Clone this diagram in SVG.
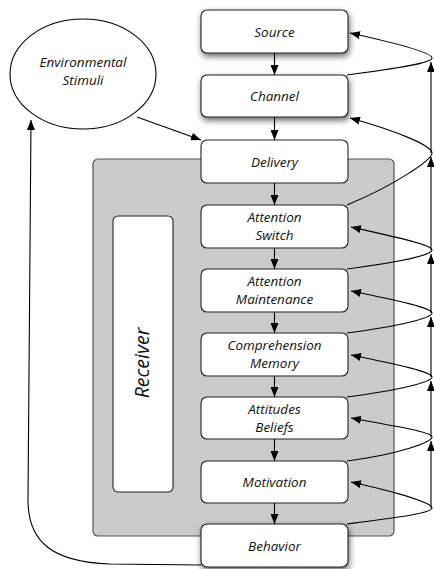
<svg xmlns="http://www.w3.org/2000/svg" width="434" height="569" viewBox="0 0 434 569">
<defs>
<marker id="ah" viewBox="0 0 10 8" refX="10" refY="4" markerWidth="10" markerHeight="8" markerUnits="userSpaceOnUse" orient="auto"><path d="M0,0 L10,4 L0,8 z" fill="#000"/></marker>
<filter id="sh" x="-20%" y="-30%" width="140%" height="170%">
<feGaussianBlur in="SourceAlpha" stdDeviation="3"/>
<feOffset dx="1" dy="3" result="b"/>
<feComponentTransfer><feFuncA type="linear" slope="0.6"/></feComponentTransfer>
<feMerge><feMergeNode/><feMergeNode in="SourceGraphic"/></feMerge>
</filter>
</defs>
<style>
.box{fill:#fff;stroke:#222;stroke-width:1.1}
.t{font-family:"Open Sans","DejaVu Sans",sans-serif;font-style:italic;font-size:13.5px;fill:#111;text-anchor:middle}
.c{fill:none;stroke:#000;stroke-width:1.1}
</style>
<g id="receiver-area">
<rect x="93" y="159" width="301" height="377" rx="5" fill="#cbcbcb" stroke="#555" stroke-width="1.2"/>
</g>
<g id="receiver">
<rect x="113" y="216" width="60" height="276" rx="5" class="box"/>
<text class="t" style="font-size:19.5px" transform="translate(149,363) rotate(-90)">Receiver</text>
</g>
<g id="env">
<ellipse cx="83" cy="74" rx="73" ry="55" fill="#fff" stroke="#000" stroke-width="1.1"/>
<text class="t" x="83" y="67">Environmental</text>
<text class="t" x="83" y="85">Stimuli</text>
</g>
<g id="source"><rect x="201" y="10" width="147" height="43" rx="6" class="box" filter="url(#sh)"/><text class="t" x="274.5" y="36.5">Source</text></g>
<g id="channel"><rect x="201" y="75" width="147" height="42" rx="6" class="box" filter="url(#sh)"/><text class="t" x="274.5" y="100.5">Channel</text></g>
<g id="delivery"><rect x="201" y="140" width="147" height="43" rx="6" class="box"/><text class="t" x="274.5" y="166.5">Delivery</text></g>
<g id="attention-switch"><rect x="201" y="205" width="147" height="43" rx="6" class="box"/><text class="t" x="274.5" y="222">Attention</text><text class="t" x="274.5" y="239.5">Switch</text></g>
<g id="attention-maintenance"><rect x="201" y="269" width="147" height="43" rx="6" class="box"/><text class="t" x="274.5" y="286">Attention</text><text class="t" x="274.5" y="303.5">Maintenance</text></g>
<g id="comprehension"><rect x="201" y="333" width="147" height="43" rx="6" class="box"/><text class="t" x="274.5" y="350">Comprehension</text><text class="t" x="274.5" y="367.5">Memory</text></g>
<g id="attitudes"><rect x="201" y="397" width="147" height="42" rx="6" class="box"/><text class="t" x="274.5" y="414">Attitudes</text><text class="t" x="274.5" y="431.5">Beliefs</text></g>
<g id="motivation"><rect x="201" y="461" width="147" height="42" rx="6" class="box"/><text class="t" x="274.5" y="486.5">Motivation</text></g>
<g id="behavior"><rect x="201" y="524" width="147" height="43" rx="6" class="box" filter="url(#sh)"/><text class="t" x="274.5" y="550.5">Behavior</text></g>
<g id="connectors">
<line class="c" x1="274.5" y1="53" x2="274.5" y2="75" marker-end="url(#ah)"/>
<line class="c" x1="274.5" y1="117" x2="274.5" y2="140" marker-end="url(#ah)"/>
<line class="c" x1="274.5" y1="183" x2="274.5" y2="205" marker-end="url(#ah)"/>
<line class="c" x1="274.5" y1="248" x2="274.5" y2="269" marker-end="url(#ah)"/>
<line class="c" x1="274.5" y1="312" x2="274.5" y2="333" marker-end="url(#ah)"/>
<line class="c" x1="274.5" y1="376" x2="274.5" y2="397" marker-end="url(#ah)"/>
<line class="c" x1="274.5" y1="439" x2="274.5" y2="461" marker-end="url(#ah)"/>
<line class="c" x1="274.5" y1="503" x2="274.5" y2="524" marker-end="url(#ah)"/>
<line class="c" x1="137" y1="117" x2="201" y2="140" marker-end="url(#ah)"/>
<path class="c" d="M201,565 L110,564 C50,562 28,540 28,500 L31,120" marker-end="url(#ah)"/>
<path class="c" d="M347,75 C400,68 432,63 432,58 C432,53 400,44 350,33" marker-end="url(#ah)"/>
<path class="c" d="M347,205 C395,185 432,160 432,153 C432,146 400,132 350,118" marker-end="url(#ah)"/>
<path class="c" d="M347,269 C400,262 432,255 432,250 C432,245 400,238 351,227" marker-end="url(#ah)"/>
<path class="c" d="M347,333 C400,326 432,318 432,313 C432,308 400,301 351,291" marker-end="url(#ah)"/>
<path class="c" d="M347,397 C400,390 432,382 432,377 C432,372 400,365 351,355" marker-end="url(#ah)"/>
<path class="c" d="M347,461 C400,454 432,442 432,437 C432,432 400,427 351,418" marker-end="url(#ah)"/>
<path class="c" d="M347,524 C400,517 432,513 432,508 C432,503 400,493 351,482" marker-end="url(#ah)"/>
<line class="c" x1="431" y1="508" x2="431" y2="441" marker-end="url(#ah)"/>
<line class="c" x1="431" y1="437" x2="431" y2="381" marker-end="url(#ah)"/>
<line class="c" x1="431" y1="377" x2="431" y2="317" marker-end="url(#ah)"/>
<line class="c" x1="431" y1="313" x2="431" y2="254" marker-end="url(#ah)"/>
<line class="c" x1="431" y1="250" x2="431" y2="157" marker-end="url(#ah)"/>
<line class="c" x1="431" y1="153" x2="431" y2="62" marker-end="url(#ah)"/>
</g>
</svg>
